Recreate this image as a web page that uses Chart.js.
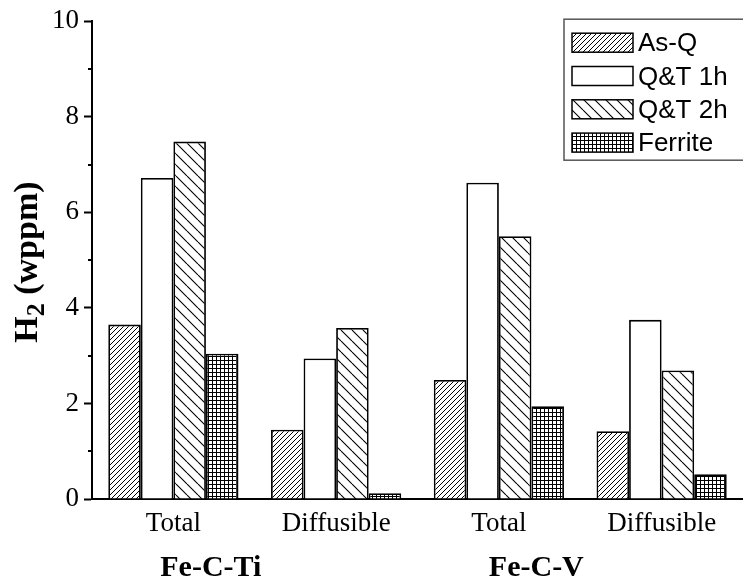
<!DOCTYPE html>
<html>
<head>
<meta charset="utf-8">
<script src="https://cdn.jsdelivr.net/npm/chart.js@4.4.1/dist/chart.umd.min.js"></script>
<style>
  html, body { margin: 0; padding: 0; background: #fff; }
  #wrap { width: 743px; height: 581px; position: relative; }
</style>
</head>
<body>
<div id="wrap"><canvas id="c" width="743" height="581"></canvas></div>
<script>
// Hydrogen content per condition, grouped by steel and measurement type
const categories = ['Total', 'Diffusible', 'Total', 'Diffusible'];
const groups = ['Fe-C-Ti', 'Fe-C-V'];
const seriesNames = ['As-Q', 'Q&T 1h', 'Q&T 2h', 'Ferrite'];
const asQ    = [3.65, 1.45, 2.49, 1.42];
const qt1h   = [6.72, 2.94, 6.62, 3.75];
const qt2h   = [7.48, 3.58, 5.50, 2.69];
const ferrite = [3.04, 0.12, 1.94, 0.52];
const yTicks = [0, 2, 4, 6, 8, 10];

// Fill patterns for the bars
function hatchPattern(size, dir, lw) {
  const c = document.createElement('canvas');
  c.width = size; c.height = size;
  const g = c.getContext('2d');
  g.fillStyle = '#fff'; g.fillRect(0, 0, size, size);
  g.strokeStyle = '#000'; g.lineWidth = lw;
  g.beginPath();
  if (dir > 0) {
    for (const o of [-size, 0, size]) { g.moveTo(o, size); g.lineTo(o + size, 0); }
  } else {
    for (const o of [-size, 0, size]) { g.moveTo(o, 0); g.lineTo(o + size, size); }
  }
  g.stroke();
  return g.createPattern(c, 'repeat');
}
function gridPattern(size) {
  const c = document.createElement('canvas');
  c.width = size; c.height = size;
  const g = c.getContext('2d');
  g.fillStyle = '#fff'; g.fillRect(0, 0, size, size);
  g.fillStyle = '#000';
  g.fillRect(0, 0, size, 1);
  g.fillRect(0, 0, 1, size);
  return g.createPattern(c, 'repeat');
}
const fills = [hatchPattern(5, 1, 1), '#ffffff', hatchPattern(11, -1, 1.1), gridPattern(4)];
const values = [asQ, qt1h, qt2h, ferrite];

const serif = '"Liberation Serif", "Times New Roman", serif';
const sans = '"Liberation Sans", Arial, sans-serif';

// Minor ticks, axis title, group labels and the framed legend
const decorations = {
  id: 'decorations',
  afterDraw(chart) {
    const ctx = chart.ctx;
    const y = chart.scales.y, x = chart.scales.x;
    const area = chart.chartArea;
    ctx.save();
    // minor ticks on y
    ctx.strokeStyle = '#000'; ctx.lineWidth = 2;
    for (let v = 1; v < 10; v += 2) {
      const py = Math.round(y.getPixelForValue(v));
      ctx.beginPath(); ctx.moveTo(area.left - 4, py); ctx.lineTo(area.left, py); ctx.stroke();
    }
    // y-axis title: H2 (wppm)
    ctx.translate(37, (area.top + area.bottom) / 2 + 2);
    ctx.rotate(-Math.PI / 2);
    ctx.fillStyle = '#000';
    ctx.textBaseline = 'alphabetic';
    const fBig = 'bold 34px ' + serif, fSub = 'bold 26px ' + serif;
    ctx.font = fBig; const wH = ctx.measureText('H').width;
    ctx.font = fSub; const w2 = ctx.measureText('2').width;
    ctx.font = fBig; const wRest = ctx.measureText(' (wppm)').width;
    let sx = -(wH + w2 + wRest) / 2;
    ctx.textAlign = 'left';
    ctx.font = fBig; ctx.fillText('H', sx, 0); sx += wH;
    ctx.font = fSub; ctx.fillText('2', sx, 7); sx += w2;
    ctx.font = fBig; ctx.fillText(' (wppm)', sx, 0);
    ctx.restore();

    // group labels under the category labels
    ctx.save();
    ctx.fillStyle = '#000';
    ctx.font = 'bold 30px ' + serif;
    ctx.textAlign = 'center'; ctx.textBaseline = 'alphabetic';
    const step = x.getPixelForValue(1) - x.getPixelForValue(0);
    groups.forEach((name, i) => {
      const cx = x.getPixelForValue(2 * i) + step * 0.23;
      ctx.fillText(name, cx, 576);
    });
    ctx.restore();

    // legend
    ctx.save();
    const lx = area.right - 179, ly = area.top - 2;
    ctx.fillStyle = '#fff';
    ctx.fillRect(lx, ly, 200, 141);
    ctx.strokeStyle = '#555'; ctx.lineWidth = 1.5;
    ctx.strokeRect(lx, ly, 200, 141);
    ctx.font = '26px ' + sans;
    ctx.textBaseline = 'alphabetic'; ctx.textAlign = 'left';
    seriesNames.forEach((name, i) => {
      const ry = ly + 23 + i * 33.3;
      ctx.fillStyle = fills[i];
      ctx.fillRect(lx + 8, ry - 9, 61, 19);
      ctx.strokeStyle = '#000'; ctx.lineWidth = 1.5;
      ctx.strokeRect(lx + 8, ry - 9, 61, 19);
      ctx.fillStyle = '#000';
      ctx.fillText(name, lx + 74, ry + 9);
    });
    ctx.restore();
  }
};

new Chart(document.getElementById('c'), {
  type: 'bar',
  data: {
    labels: categories,
    datasets: seriesNames.map((name, i) => ({
      label: name,
      data: values[i],
      backgroundColor: fills[i],
      borderColor: '#000',
      borderWidth: 1.8,
      borderSkipped: 'bottom',
      barPercentage: 1.0,
      categoryPercentage: 0.8
    }))
  },
  options: {
    responsive: false,
    animation: false,
    devicePixelRatio: 1,
    layout: { padding: { top: 17, right: 0, left: 0, bottom: 0 } },
    plugins: { legend: { display: false }, tooltip: { enabled: false } },
    scales: {
      x: {
        grid: { display: false, drawTicks: false },
        border: { display: true, color: '#000', width: 2 },
        ticks: { color: '#000', font: { family: serif, size: 27 }, padding: 9, maxRotation: 0 },
        afterFit(s) { s.height = 82; }
      },
      y: {
        min: 0, max: 10,
        afterBuildTicks(s) { s.ticks = yTicks.map(v => ({ value: v })); },
        grid: { drawOnChartArea: false, drawTicks: true, tickLength: 8, tickColor: '#000', tickWidth: 2 },
        border: { display: true, color: '#000', width: 2 },
        ticks: { color: '#000', font: { family: serif, size: 27 }, padding: 5 },
        afterFit(s) { s.width = 92; }
      }
    }
  },
  plugins: [decorations]
});
</script>
</body>
</html>
